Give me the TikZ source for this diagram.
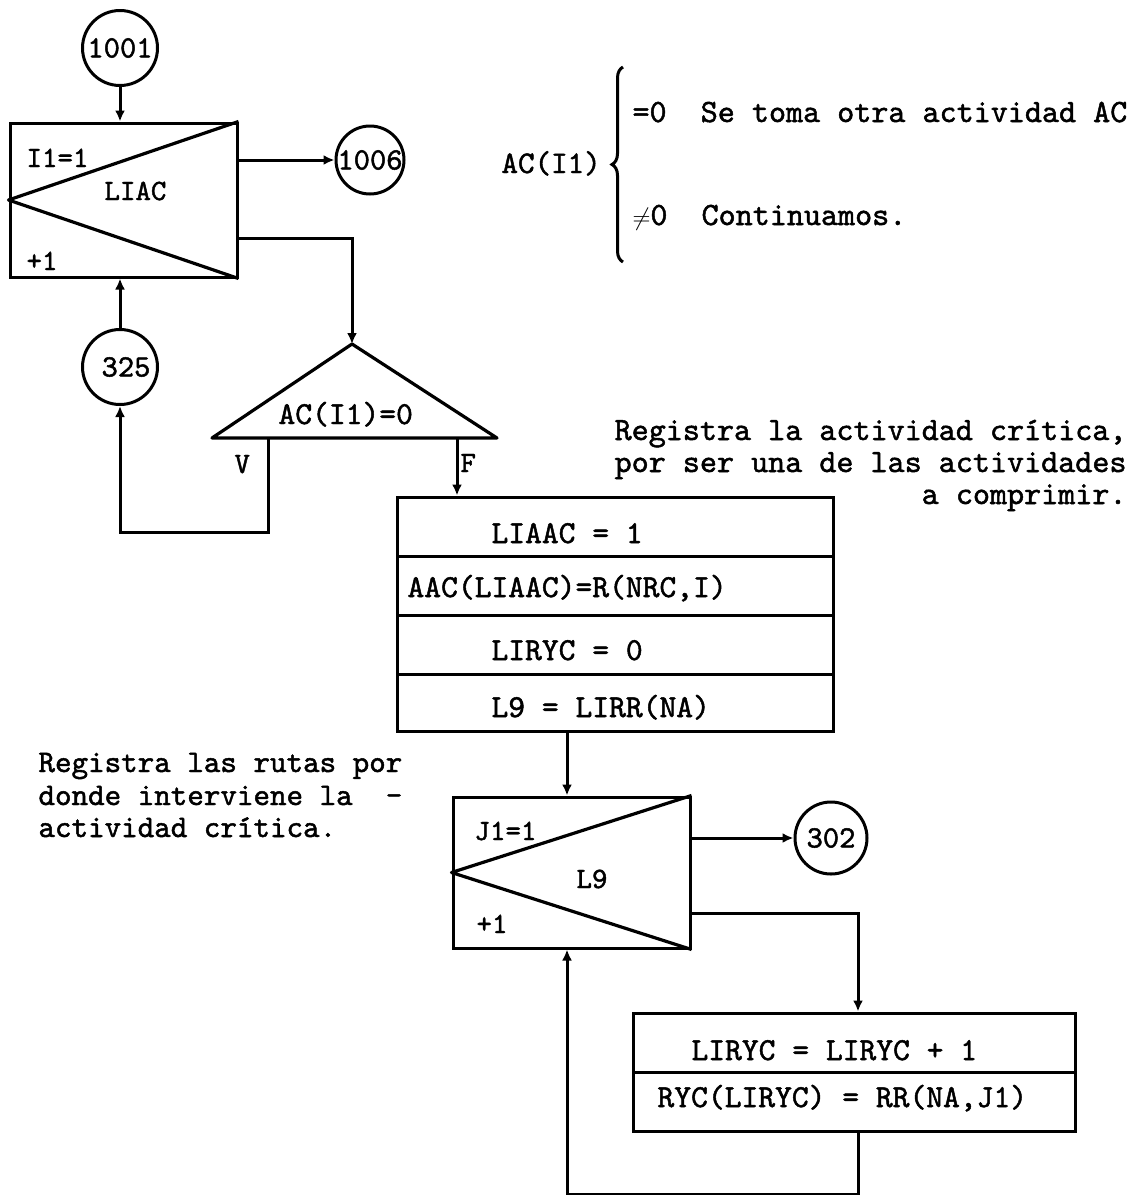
\documentclass[tikz,border=0pt]{standalone}
\usepackage{fontspec}
\newfontfamily\tw{lmmono10-regular}[Extension=.otf,FakeBold=1.5]
\usetikzlibrary{arrows.meta,decorations.pathreplacing}
\begin{document}
\begin{tikzpicture}[x=1pt,y=-1pt,line width=3pt,
  every node/.style={inner sep=0pt},
  txt/.style={font=\fontsize{32}{34}\selectfont\tw,anchor=base west},
  note/.style={font=\fontsize{31.5}{33}\selectfont\tw,anchor=base west},
  bignote/.style={font=\fontsize{32.5}{34}\selectfont\tw},
  small/.style={font=\fontsize{29.5}{31}\selectfont\tw,anchor=base west},
  conncirc/.style={draw,circle,minimum size=#1,font=\fontsize{31}{32}\selectfont\tw},
  cell/.style={draw,rectangle,minimum width=#1},
  loopbox/.style={draw,rectangle},
  arr/.style={-{Latex[length=11pt,width=10pt]}},
  ln/.style={line width=3.2pt,line join=round}]
\useasboundingbox (0,0) rectangle (1138,1195);

% ---- first loop ----
\node[conncirc=75pt] (c1001) at (120,48) {1001};
\node[loopbox,minimum width=227pt,minimum height=154pt] (loopA) at (123.5,200) {};
\draw[ln] (loopA.north east) -- (loopA.west) -- (loopA.south east);
\node[small] (tA1) at (25,167) {I1=1};
\node[small] (tA2) at (103,200) {LIAC};
\node[small] (tA3) at (25,270) {+1};
\node[conncirc=68pt] (c1006) at (370,160) {1006};
\node[conncirc=75pt] (c325) at (120,367) {\hspace{12pt}325};

\draw[arr] (c1001.south) -- (c1001.south |- loopA.north);
\draw[arr] (loopA.east |- c1006) -- (c1006.west);

% ---- decision ----
\coordinate (dApex) at (352,344);
\coordinate (dL) at (212,438);
\coordinate (dR) at (497,438);
\coordinate (dV) at (268,438);
\coordinate (dF) at (457,438);
\draw[ln] (dL) -- (dApex) -- (dR) -- cycle;
\node[txt] (tdec) at (277,424) {AC(I1)=0};
\node[small] (tV) at (233,473) {V};
\node[small] (tF) at (459,472) {F};

\draw[arr] (loopA.east) ++(0,38) -| (dApex);
\draw[arr] (dV) -- (268,532) -| (c325.south);
\draw[arr] (c325.north) -- (c325.north |- loopA.south);

% ---- box stack ----
\node[cell=436pt,minimum height=59pt] (b1) at (615,526.5) {};
\node[cell=436pt,minimum height=59pt] (b2) at (615,585.5) {};
\node[cell=436pt,minimum height=59pt] (b3) at (615,644.5) {};
\node[cell=436pt,minimum height=57pt] (b4) at (615,702.5) {};
\node[txt] (tb1) at (490,543) {LIAAC = 1};
\node[txt] (tb2) at (406,597) {AAC(LIAAC)=R(NRC,I)};
\node[txt] (tb3) at (490,660) {LIRYC = 0};
\node[txt] (tb4) at (490,717) {L9 = LIRR(NA)};
\draw[arr] (dF) -- (dF |- b1.north);

% ---- second loop ----
\coordinate (xB) at (567,0);
\coordinate (xC) at (858,0);
\node[loopbox,minimum width=237pt,minimum height=151pt] (loopB) at (571.5,872.5) {};
\draw[ln] (loopB.north east) -- (loopB.west) -- (loopB.south east);
\node[small] (tB1) at (473,840) {J1=1};
\node[small] (tB2) at (575,888) {L9};
\node[small] (tB3) at (475,933) {+1};
\node[conncirc=72pt] (c302) at (831,838) {302\hspace{22pt}};
\draw[arr] (b4.south -| xB) -- (loopB.north -| xB);
\draw[arr] (loopB.east |- c302) -- (c302.west);

% ---- bottom boxes ----
\node[cell=442pt,minimum height=59pt] (b5) at (854,1042.5) {};
\node[cell=442pt,minimum height=59pt] (b6) at (854,1101.5) {};
\node[txt] (tb5) at (690,1060) {LIRYC = LIRYC + 1};
\node[txt] (tb6) at (656,1107) {RYC(LIRYC) = RR(NA,J1)};
\draw[arr] (loopB.east) ++(0,40.5) -| (b5.north -| xC);
\draw[arr] (b6.south -| xC) -- ++(0,62) -| (loopB.south -| xB);

% ---- annotations ----
\node[note] (acI) at (500,173) {AC(I1)};
\draw[decorate,decoration={brace,amplitude=11pt},line width=3pt] (623,262) -- (623,67);
\node[bignote,anchor=base west] (cond1) at (631,122) {=0\ \ Se toma otra actividad AC};
\node[bignote,anchor=base west] (cond2) at (631,225) {\ensuremath{\neq}0\ \ Continuamos.};
\node[bignote,anchor=base east] (r1) at (1128,440) {Registra la actividad crítica,};
\node[bignote,anchor=base east] (r2) at (1128,472) {por ser una de las actividades};
\node[bignote,anchor=base east] (r3) at (1128,504) {a comprimir.};
\node[note] (l1) at (37,772) {Registra las rutas por};
\node[note] (l2) at (37,805) {donde interviene la\ \ -};
\node[note] (l3) at (37,837) {actividad crítica.};
\end{tikzpicture}
\end{document}
